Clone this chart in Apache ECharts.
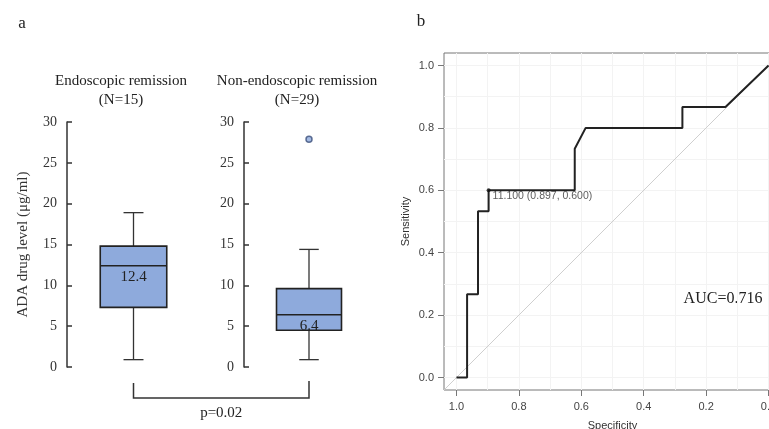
<!DOCTYPE html>
<html>
<head>
<meta charset="utf-8">
<script src="https://cdn.jsdelivr.net/npm/echarts@6/dist/echarts.min.js"></script>
<style>
html, body { margin: 0; padding: 0; background: #fff; }
#main { width: 769px; height: 429px; }
</style>
</head>
<body>
<div id="main"></div>
<script>
// panel a: ADA drug level per group (min, Q1, median, Q3, max)
const groups = ['Endoscopic remission', 'Non-endoscopic remission']
const groupN = [15, 29]
const boxER = [0.9, 7.3, 12.4, 14.8, 18.9]
const boxNER = [0.9, 4.5, 6.4, 9.6, 14.4]
const outliersNER = [27.9]
const levelTicks = [0, 5, 10, 15, 20, 25, 30]

// panel b: ROC curve
const specificity = [1.0, 0.966, 0.966, 0.931, 0.931, 0.897, 0.897, 0.621, 0.621, 0.586, 0.276, 0.276, 0.138, 0.0]
const sensitivity = [0.0, 0.0, 0.267, 0.267, 0.533, 0.533, 0.6, 0.6, 0.733, 0.8, 0.8, 0.867, 0.867, 1.0]
const bestThreshold = 11.1
const bestPoint = [0.897, 0.600]
const rocTicks = [0, 0.2, 0.4, 0.6, 0.8, 1.0]
const gridTicks = [0, 0.1, 0.2, 0.3, 0.4, 0.5, 0.6, 0.7, 0.8, 0.9, 1.0]
const aucValue = 0.716
const pValue = 0.02

const SERIF = '"Liberation Serif", "Times New Roman", serif'
const SANS = '"Liberation Sans", Arial, sans-serif'
const boxFill = '#8eaadc'

const chart = echarts.init(document.getElementById('main'))

/**
 * draw one box with narrow whisker caps and the median printed inside
 */
const renderBox = (params, api) => {
    const x = api.value(0)
    const pMin = api.coord([x, api.value(1)])
    const pQ1 = api.coord([x, api.value(2)])
    const pMed = api.coord([x, api.value(3)])
    const pQ3 = api.coord([x, api.value(4)])
    const pMax = api.coord([x, api.value(5)])
    const band = api.size([1, 0])[0]
    const half = band * 0.25
    const cap = band * 0.075
    const cx = pMed[0]
    const line = { stroke: '#333', lineWidth: 1.3 }
    return {
        type: 'group',
        children: [
            { type: 'line', shape: { x1: cx, y1: pMax[1], x2: cx, y2: pQ3[1] }, style: line },
            { type: 'line', shape: { x1: cx, y1: pQ1[1], x2: cx, y2: pMin[1] }, style: line },
            { type: 'line', shape: { x1: cx - cap, y1: pMax[1], x2: cx + cap, y2: pMax[1] }, style: line },
            { type: 'line', shape: { x1: cx - cap, y1: pMin[1], x2: cx + cap, y2: pMin[1] }, style: line },
            {
                type: 'rect',
                shape: { x: cx - half, y: pQ3[1], width: half * 2, height: pQ1[1] - pQ3[1] },
                style: { fill: boxFill, stroke: '#222', lineWidth: 1.6 }
            },
            { type: 'line', shape: { x1: cx - half, y1: pMed[1], x2: cx + half, y2: pMed[1] }, style: { stroke: '#222', lineWidth: 1.6 } },
            {
                type: 'text',
                x: cx, y: pMed[1] + 11,
                style: {
                    text: String(api.value(3)),
                    align: 'center', verticalAlign: 'middle',
                    font: '15px ' + SERIF, fill: '#222'
                }
            }
        ]
    }
}

const levelAxis = (gridIndex, withName) => ({
    type: 'value',
    gridIndex: gridIndex,
    min: levelTicks[0],
    max: levelTicks[levelTicks.length - 1],
    interval: 5,
    name: withName ? 'ADA drug level (μg/ml)' : '',
    nameLocation: 'middle',
    nameRotate: 90,
    nameGap: 36,
    nameTextStyle: { fontFamily: SERIF, fontSize: 15, color: '#333' },
    axisLine: { show: true, lineStyle: { color: '#333', width: 1.5 } },
    axisTick: { show: true, inside: true, length: 5, lineStyle: { color: '#333', width: 1.5 } },
    axisLabel: { margin: 10, fontFamily: SERIF, fontSize: 14, color: '#333' },
    splitLine: { show: false }
})

const rocAxis = (isX) => ({
    type: 'value',
    gridIndex: 2,
    min: -0.04,
    max: 1.04,
    inverse: isX,
    name: isX ? 'Specificity' : 'Sensitivity',
    nameLocation: 'middle',
    nameGap: isX ? 30 : 33,
    nameTextStyle: { fontFamily: SANS, fontSize: 11, color: '#333' },
    axisLine: { show: false, onZero: false },
    axisTick: {
        show: true, length: 6, customValues: rocTicks,
        lineStyle: { color: '#777', width: 1 }
    },
    axisLabel: {
        margin: isX ? 11 : 10,
        customValues: rocTicks,
        fontFamily: SANS, fontSize: 11, color: '#444',
        formatter: v => v.toFixed(1)
    },
    splitLine: { show: false }
})

const option = {
    animation: false,
    grid: [
        { left: 67, top: 122, width: 133, height: 245, outerBoundsMode: 'none' },
        { left: 244, top: 122, width: 130, height: 245, outerBoundsMode: 'none' },
        { left: 444, top: 53, width: 337, height: 337, outerBoundsMode: 'none', show: true, borderColor: '#777', borderWidth: 1 }
    ],
    xAxis: [
        { type: 'category', gridIndex: 0, data: [groups[0]], show: false },
        { type: 'category', gridIndex: 1, data: [groups[1]], show: false },
        rocAxis(true)
    ],
    yAxis: [
        levelAxis(0, true),
        levelAxis(1, false),
        rocAxis(false)
    ],
    series: [
        {
            type: 'custom', xAxisIndex: 0, yAxisIndex: 0,
            renderItem: renderBox,
            encode: { x: 0, y: [1, 2, 3, 4, 5] },
            data: [[0].concat(boxER)]
        },
        {
            type: 'custom', xAxisIndex: 1, yAxisIndex: 1,
            renderItem: renderBox,
            encode: { x: 0, y: [1, 2, 3, 4, 5] },
            data: [[0].concat(boxNER)]
        },
        {
            type: 'scatter', xAxisIndex: 1, yAxisIndex: 1,
            symbolSize: 6,
            itemStyle: { color: boxFill, borderColor: '#3b4f7a', borderWidth: 1.5 },
            data: outliersNER.map(v => [0, v])
        },
        {
            // faint grid + chance diagonal
            type: 'line', xAxisIndex: 2, yAxisIndex: 2,
            symbol: 'none',
            lineStyle: { color: '#cfcfcf', width: 1 },
            data: [[1.04, -0.04], [-0.04, 1.04]],
            markLine: {
                silent: true,
                z: 0,
                symbol: 'none',
                label: { show: false },
                lineStyle: { color: '#f3f3f3', width: 1, type: 'solid' },
                data: gridTicks.map(v => ({ xAxis: v })).concat(gridTicks.map(v => ({ yAxis: v })))
            },
            z: 1
        },
        {
            type: 'line', xAxisIndex: 2, yAxisIndex: 2,
            symbol: 'none',
            lineStyle: { color: '#222', width: 2 },
            data: specificity.map((s, i) => [s, sensitivity[i]]),
            z: 6
        },
        {
            type: 'scatter', xAxisIndex: 2, yAxisIndex: 2,
            symbolSize: 4,
            itemStyle: { color: '#111' },
            label: {
                show: true,
                position: 'right',
                distance: 2,
                offset: [0, 6],
                fontFamily: SANS, fontSize: 10.5, color: '#333',
                formatter: () => bestThreshold.toFixed(3) + ' (' + bestPoint[0].toFixed(3) + ', ' + bestPoint[1].toFixed(3) + ')'
            },
            data: [bestPoint],
            z: 7
        }
    ],
    graphic: [
        { id: 'lblA', type: 'text', x: 22, y: 24, style: { text: 'a', font: '17px ' + SERIF, fill: '#222', align: 'center', verticalAlign: 'middle' } },
        { id: 'lblB', type: 'text', x: 421, y: 22, style: { text: 'b', font: '17px ' + SERIF, fill: '#222', align: 'center', verticalAlign: 'middle' } },
        { id: 't1', type: 'text', x: 121, y: 81, style: { text: groups[0], font: '15px ' + SERIF, fill: '#222', align: 'center', verticalAlign: 'middle' } },
        { id: 'n1', type: 'text', x: 121, y: 100, style: { text: '(N=' + groupN[0] + ')', font: '15px ' + SERIF, fill: '#222', align: 'center', verticalAlign: 'middle' } },
        { id: 't2', type: 'text', x: 297, y: 81, style: { text: groups[1], font: '15px ' + SERIF, fill: '#222', align: 'center', verticalAlign: 'middle' } },
        { id: 'n2', type: 'text', x: 297, y: 100, style: { text: '(N=' + groupN[1] + ')', font: '15px ' + SERIF, fill: '#222', align: 'center', verticalAlign: 'middle' } },
        { id: 'auc', type: 'text', x: 723, y: 299, style: { text: 'AUC=' + aucValue.toFixed(3), font: '16px ' + SERIF, fill: '#222', align: 'center', verticalAlign: 'middle' } }
    ]
}
chart.setOption(option)

// significance bracket between the two boxes
const x1 = chart.convertToPixel({ xAxisIndex: 0 }, groups[0])
const x2 = chart.convertToPixel({ xAxisIndex: 1 }, groups[1])
chart.setOption({
    graphic: [
        {
            id: 'bracket', type: 'polyline',
            shape: { points: [[x1, 383], [x1, 398], [x2, 398], [x2, 381]] },
            style: { stroke: '#333', lineWidth: 1.5, fill: null }
        },
        {
            id: 'pval', type: 'text', x: (x1 + x2) / 2, y: 413,
            style: { text: 'p=' + pValue, font: '15px ' + SERIF, fill: '#222', align: 'center', verticalAlign: 'middle' }
        }
    ]
})
</script>
</body>
</html>
